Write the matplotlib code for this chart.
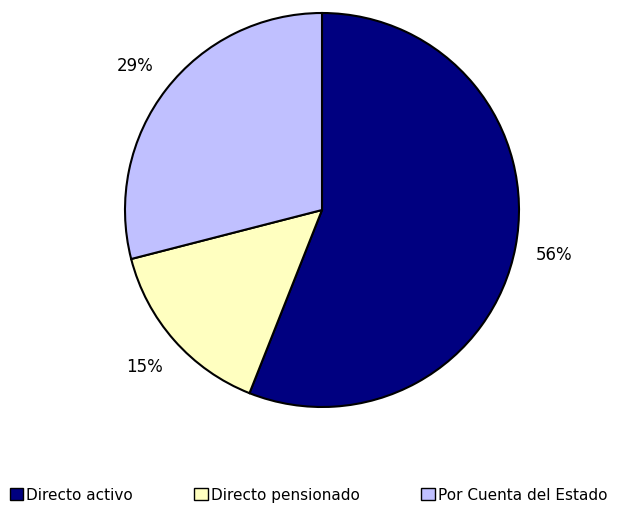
import matplotlib.pyplot as plt
from matplotlib.patches import Patch

categories = ["Directo activo", "Directo pensionado", "Por Cuenta del Estado"]
shares = [56, 15, 29]
colors = ["#000080", "#FFFFC0", "#C0C0FF"]

plt.rcParams['font.family'] = ['DejaVu Sans']

fig = plt.figure(figsize=(6.17, 5.06), dpi=100)
cx, cy, r = 322, 211, 197
ax = fig.add_axes([(cx - r) / 617, (506 - cy - r) / 506, 2 * r / 617, 2 * r / 506])

ax.pie(shares, colors=colors, startangle=90, counterclock=False,
       autopct=lambda p: f"{p:.0f}%", pctdistance=1.2, radius=1,
       wedgeprops=dict(edgecolor="black", linewidth=1.5),
       textprops=dict(fontsize=12, color="black"))
ax.set_xlim(-1, 1)
ax.set_ylim(-1, 1)
ax.set_aspect('auto')
ax.axis('off')

handles = [Patch(facecolor=c, edgecolor="black", linewidth=1) for c in colors]
fig.legend(handles, categories, loc='lower center', bbox_to_anchor=(0.5, -0.022),
           ncol=3, frameon=False, fontsize=11, handlelength=0.9, handleheight=0.9,
           handletextpad=0.2, columnspacing=4.0)

fig.savefig("out.png", dpi=100)
